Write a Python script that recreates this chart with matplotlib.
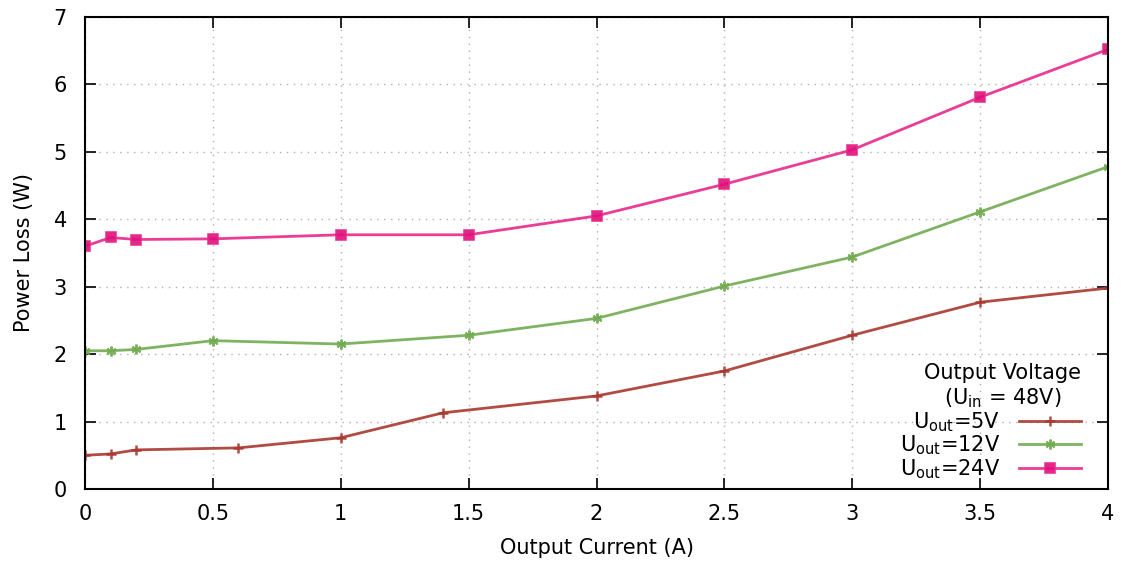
import matplotlib
matplotlib.use("Agg")
import matplotlib.pyplot as plt
from matplotlib.ticker import MultipleLocator

# values
x_5v = [0, 0.1, 0.2, 0.6, 1.0, 1.4, 2.0, 2.5, 3.0, 3.5, 4.0]
p_5v = [0.50, 0.52, 0.58, 0.61, 0.76, 1.13, 1.38, 1.75, 2.28, 2.77, 2.98]

x_12v = [0, 0.1, 0.2, 0.5, 1.0, 1.5, 2.0, 2.5, 3.0, 3.5, 4.0]
p_12v = [2.05, 2.05, 2.07, 2.20, 2.15, 2.28, 2.53, 3.01, 3.44, 4.11, 4.78]

x_24v = [0, 0.1, 0.2, 0.5, 1.0, 1.5, 2.0, 2.5, 3.0, 3.5, 4.0]
p_24v = [3.60, 3.73, 3.70, 3.71, 3.77, 3.77, 4.05, 4.52, 5.03, 5.81, 6.52]

tick_labels = ['0', '0.5', '1', '1.5', '2', '2.5', '3', '3.5', '4']

plt.rcParams['mathtext.default'] = 'regular'
plt.rcParams['font.family'] = ['DejaVu Sans']

fig = plt.figure(figsize=(11.21, 5.65), dpi=100)
ax = fig.add_axes([85/1121, 1 - 489/565, (1108 - 85)/1121, (489 - 17)/565])

ax.plot(x_5v, p_5v, color='#a8382f', lw=2, marker='+', ms=7, mew=1.8,
        alpha=0.9, label=r'U$_{out}$=5V')
ax.plot(x_12v, p_12v, color='#72ab50', lw=2, marker=(6, 2, 0), ms=7, mew=1.6,
        alpha=0.9, label=r'U$_{out}$=12V')
ax.plot(x_24v, p_24v, color='#e8288a', lw=2, marker='s', ms=7, mew=1.2,
        mfc='#e0107c', alpha=0.9, label=r'U$_{out}$=24V')

ax.set_xlim(0, 4)
ax.set_ylim(0, 7)
ax.yaxis.set_major_locator(MultipleLocator(1))
ax.set_xticks([float(t) for t in tick_labels])
ax.set_xticklabels(tick_labels)
ax.tick_params(direction='in', length=8, width=1.2, top=True, right=True,
               labelsize=15)
ax.tick_params(axis='x', pad=11)
ax.tick_params(axis='y', pad=13)
ax.grid(True, color='#b0b0b0', ls=(0, (1, 4)), lw=1)
for s in ax.spines.values():
    s.set_linewidth(1.5)

ax.set_xlabel('Output Current (A)', fontsize=15, labelpad=10)
ax.set_ylabel('Power Loss (W)', fontsize=15, labelpad=14)

leg = ax.legend(title='Output Voltage\n' + r'(U$_{in}$ = 48V)', loc='lower right',
                bbox_to_anchor=(0.988, -0.0135), frameon=False, markerfirst=False,
                alignment='right', fontsize=15, title_fontsize=15,
                handlelength=3.0, labelspacing=0.0, borderpad=0.2, handletextpad=0.9)
leg._legend_box.align = 'right'
leg.get_title().set_multialignment('center')

fig.savefig('out.png', dpi=100)
